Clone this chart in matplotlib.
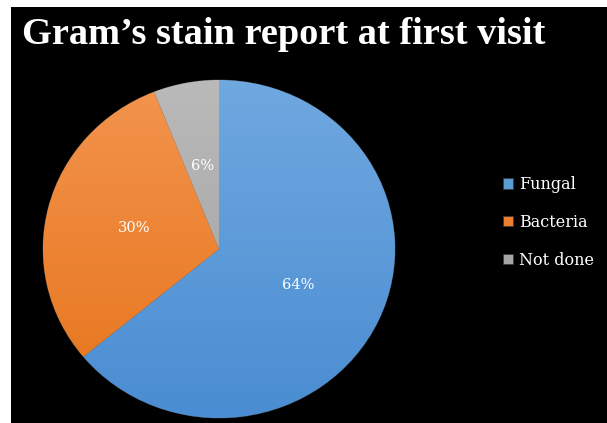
import numpy as np
import matplotlib
matplotlib.use("Agg")
import matplotlib.pyplot as plt
from matplotlib.colors import LinearSegmentedColormap

title = "Gram\u2019s stain report at first visit"
labels = ["Fungal", "Bacteria", "Not done"]
values = [64, 30, 6]
top_colors = ["#70a8e0", "#f3944e", "#bababa"]
bottom_colors = ["#4a8dd2", "#e6741a", "#9e9e9e"]
mid_colors = ["#5b9bd5", "#ed7d31", "#a5a5a5"]

W, H = 607, 423
fig = plt.figure(figsize=(W / 100, H / 100), dpi=100, facecolor="white")

# black chart area (white strip on the top and left)
bg = fig.add_axes([11 / W, 0, 1 - 11 / W, 1 - 7 / H])
bg.set_facecolor("black")
bg.set_xticks([])
bg.set_yticks([])
for s in bg.spines.values():
    s.set_visible(False)

# pie axes covering the (slightly stretched) pie
ax = fig.add_axes([43 / W, 5 / H, 352 / W, 338 / H])
ax.set_facecolor("none")
wedges, texts, autotexts = ax.pie(
    values, colors=mid_colors, startangle=90, counterclock=False,
    autopct="%1.0f%%", pctdistance=0.5, radius=1.0,
    wedgeprops=dict(edgecolor="#3a3a3a", linewidth=0.6),
    textprops=dict(color="white", fontsize=10.5, family="DejaVu Serif"),
)
ax.set_aspect("auto")
ax.axis("off")

grad = np.linspace(1, 0, 256).reshape(-1, 1)
for w, c0, c1 in zip(wedges, top_colors, bottom_colors):
    cmap = LinearSegmentedColormap.from_list("g", [c1, c0])
    im = ax.imshow(grad, cmap=cmap, extent=(-1, 1, -1, 1), aspect="auto",
                   origin="upper", zorder=w.get_zorder() + 0.1)
    im.set_clip_path(w)
    im.set_norm(plt.Normalize(0, 1))
for t in autotexts:
    t.set_zorder(10)
ax.set_xlim(-1, 1)
ax.set_ylim(-1, 1)

fig.text(22 / W, 1 - 35 / H, title, color="white", fontsize=27.6,
         fontweight="bold", family="Liberation Serif", va="center", ha="left")

leg = fig.legend(wedges, labels, loc="upper left",
                 bbox_to_anchor=(503 / W, 1 - 176 / H), frameon=False,
                 borderpad=0, borderaxespad=0,
                 prop=dict(family="DejaVu Serif", size=11.5),
                 labelcolor="white", handlelength=0.65, handleheight=0.65,
                 handletextpad=0.35, labelspacing=1.3)

fig.savefig("out.png", dpi=100, facecolor="white")
